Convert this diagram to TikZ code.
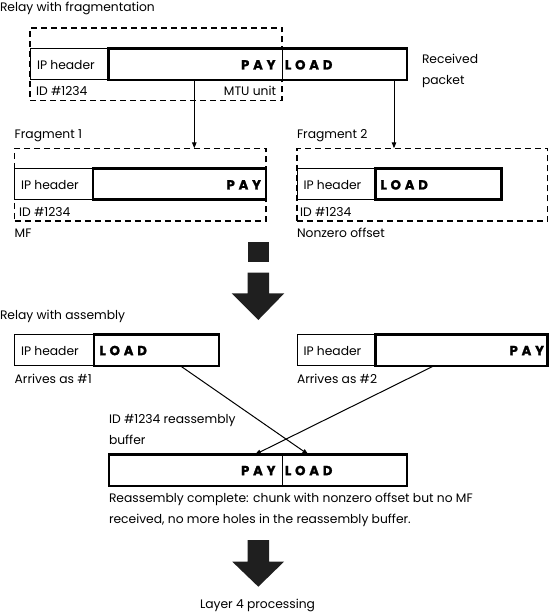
\documentclass[tikz,border=0pt]{standalone}
\usepackage{fontspec}
\setmainfont{Poppins}
\usetikzlibrary{arrows.meta,calc}
\newcommand\wPAY{P\kern3.8pt A\kern3.8pt Y}
\newcommand\wLOAD{L\kern3.8pt O\kern3.8pt A\kern3.8pt D}
\begin{document}
\begin{tikzpicture}[x=1pt,y=-1pt,
  font=\fontsize{12.3}{21}\selectfont,
  thinbox/.style={draw, fill=white, line width=1pt, rectangle, inner sep=0, outer sep=0, anchor=north west, minimum height=31.5pt},
  thickbox/.style={draw, fill=white, line width=2.6pt, rectangle, inner sep=0, outer sep=0, anchor=north west, minimum height=31.5pt},
  dashbox/.style={draw, line width=1.5pt, dash pattern=on 6pt off 4pt, rectangle, inner sep=0, outer sep=0, anchor=north west},
  lbl/.style={anchor=base west, inner sep=0, outer sep=0},
  rlbl/.style={anchor=base east, inner sep=0, outer sep=0},
  bigw/.style={font=\fontsize{13.2}{14}\selectfont\bfseries\addfontfeature{FakeBold=1.5}},
  divider/.style={line width=1pt},
  conn/.style={line width=1pt, -{Triangle[length=6pt,width=4.5pt]}},
  fat/.style={fill=black!88, draw=none}
]
\useasboundingbox (0,0) rectangle (549,612);

% ---------- Relay with fragmentation ----------
\node[lbl] (t1) at (0,12) {Relay with fragmentation};
\node[dashbox, minimum width=252pt, minimum height=72.5pt] (mtu) at (30,28) {};
\node[thinbox, minimum width=78.5pt] (iph0) at (30,48.5) {};
\node[thickbox, minimum width=298.5pt] (pl0) at (108.5,48.5) {};
\draw[divider] (mtu.north east |- pl0.north) -- (mtu.north east |- pl0.south);
\node[lbl] (iph0t) at (37,69.3) {IP header};
\node[rlbl, bigw] (pay0) at (275.5,69.5) {\wPAY};
\node[lbl, bigw] (load0) at (285,69.5) {\wLOAD};
\node[lbl] (id0) at (36,96) {ID \#1234};
\node[rlbl] (mtut) at (276,96) {MTU unit};
\node[lbl, align=left] (recv) at (422,84.5) {Received\\packet};

% ---------- Fragments ----------
\node[lbl] (f1t) at (14.7,138.5) {Fragment 1};
\node[dashbox, minimum width=251.3pt, minimum height=72.7pt] (f1) at (14.7,148.3) {};
\node[thinbox, minimum width=78.1pt] (iph1) at (14.7,168.3) {};
\node[thickbox, minimum width=173.2pt] (pl1) at (92.8,168.3) {};
\node[lbl] (iph1t) at (21,189.3) {IP header};
\node[rlbl, bigw] (pay1) at (261,189.5) {\wPAY};
\node[lbl] (id1) at (19,216.5) {ID \#1234};
\node[lbl] (mf) at (14.7,237) {MF};

\node[lbl] (f2t) at (297,138.5) {Fragment 2};
\node[dashbox, minimum width=250.5pt, minimum height=72.7pt] (f2) at (297,148.3) {};
\node[thinbox, minimum width=78.4pt] (iph2) at (297,168.3) {};
\node[thickbox, minimum width=126.1pt] (pl2) at (375.4,168.3) {};
\node[lbl] (iph2t) at (303.5,189.3) {IP header};
\node[lbl, bigw] (load2) at (380.5,189.5) {\wLOAD};
\node[lbl] (id2) at (300,216.5) {ID \#1234};
\node[lbl] (nzo) at (297,237) {Nonzero offset};

\coordinate (ca) at (194.3,0);
\coordinate (cb) at (394,0);
\draw[conn] (ca |- pl0.south) -- (ca |- f1.north);
\draw[conn] (cb |- pl0.south) -- (cb |- f2.north);

% ---------- fat arrow 1 ----------
\fill[fat] (247.7,241.7) rectangle (269,262);
\fill[fat] (247.7,272.7) -- (269,272.7) -- (269,293.3) -- (284.3,293.3) -- (258.3,320) -- (231.7,293.3) -- (247.7,293.3) -- cycle;

% ---------- Relay with assembly ----------
\node[lbl] (t2) at (0,319.5) {Relay with assembly};
\node[thinbox, minimum width=79.1pt] (iph3) at (14.7,334.3) {};
\node[thickbox, minimum width=125pt] (pl3) at (93.8,334.3) {};
\node[lbl] (iph3t) at (21,355) {IP header};
\node[lbl, bigw] (load3) at (99.5,355.2) {\wLOAD};
\node[lbl] (arr1) at (14.7,383.3) {Arrives as \#1};

\node[thinbox, minimum width=78.4pt] (iph4) at (297,334.3) {};
\node[thickbox, minimum width=172pt] (pl4) at (375.4,334.3) {};
\node[lbl] (iph4t) at (303.5,355) {IP header};
\node[rlbl, bigw] (pay4) at (544,355.2) {\wPAY};
\node[lbl] (arr2) at (297,383.3) {Arrives as \#2};

\node[lbl, align=left] (bufl) at (109,444.5) {ID \#1234 reassembly\\buffer};
\node[thickbox, minimum width=298pt] (buf) at (109,454.5) {};
\draw[divider] (282,454.5) coordinate (dv) -- (dv |- buf.south);
\node[rlbl, bigw] (pay5) at (275.5,475.2) {\wPAY};
\node[lbl, bigw] (load5) at (285,475.2) {\wLOAD};

\coordinate (s1) at (180.3,0);
\coordinate (s2) at (434,0);
\coordinate (e1) at (308.3,0);
\coordinate (e2) at (255,0);
\draw[conn] (s1 |- pl3.south) -- (e1 |- buf.north);
\draw[conn] (s2 |- pl4.south) -- (e2 |- buf.north);

\node[lbl, align=left] (done) at (109,523.5) {Reassembly complete: chunk with nonzero offset but no MF\\received, no more holes in the reassembly buffer.};

% ---------- fat arrow 2 ----------
\fill[fat] (247.7,540) -- (269,540) -- (269,561.7) -- (284,561.7) -- (258.3,586.7) -- (232.3,561.7) -- (247.7,561.7) -- cycle;
\node[anchor=base, inner sep=0] (l4) at (257.5,608) {Layer 4 processing};
\end{tikzpicture}
\end{document}
